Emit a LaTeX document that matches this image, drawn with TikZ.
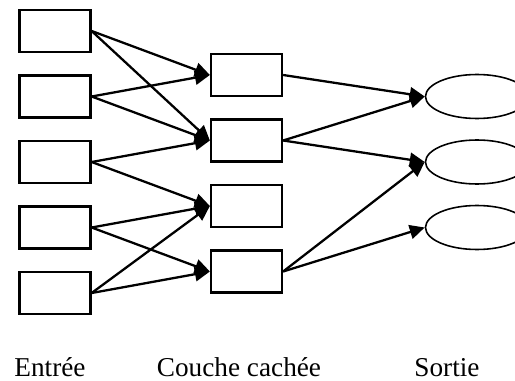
\documentclass[tikz,border=0pt]{standalone}
\usepackage{fontspec}
\setmainfont{Liberation Serif}
\usepackage{tikz}
\usetikzlibrary{arrows.meta,shapes.geometric}

\begin{document}
\begin{tikzpicture}[node distance=1.31cm, >={Triangle[length=8.5pt,width=8pt]},
    block/.style={rectangle, draw, line width=1.3pt, minimum height=0.84cm,
                  minimum width=1.42cm, inner sep=0pt},
    sortie/.style={ellipse, draw, line width=0.9pt, minimum height=0.88cm,
                   minimum width=2.06cm, inner sep=0pt},
    arrow/.style={->, line width=1.3pt},
    legende/.style={anchor=base, font=\fontsize{15.5}{18}\selectfont}]
    \useasboundingbox (0,0) rectangle (10.3,-7.62);
    \node[block] (e1) at (1.10,-0.62) {};
    \node[block, below of=e1] (e2) {};
    \node[block, below of=e2] (e3) {};
    \node[block, below of=e3] (e4) {};
    \node[block, below of=e4] (e5) {};
    \node[block] (c1) at (4.93,-1.50) {};
    \node[block, below of=c1] (c2) {};
    \node[block, below of=c2] (c3) {};
    \node[block, below of=c3] (c4) {};
    \node[sortie] (s1) at (9.54,-1.93) {};
    \node[sortie, below of=s1] (s2) {};
    \node[sortie, below of=s2] (s3) {};
    \node[legende] (le) at (1.00,-7.52) {Entrée};
    \node[legende] (lc) at (4.78,-7.52) {Couche cachée};
    \node[legende] (ls) at (8.94,-7.52) {Sortie};
    \draw[arrow] (e1.east) -- (c1.west);
    \draw[arrow] (e1.east) -- (c2.west);
    \draw[arrow] (e2.east) -- (c1.west);
    \draw[arrow] (e2.east) -- (c2.west);
    \draw[arrow] (e3.east) -- (c2.west);
    \draw[arrow] (e3.east) -- (c3.west);
    \draw[arrow] (e4.east) -- (c3.west);
    \draw[arrow] (e4.east) -- (c4.west);
    \draw[arrow] (e5.east) -- (c3.west);
    \draw[arrow] (e5.east) -- (c4.west);
    \draw[arrow] (c1.east) -- (s1.west);
    \draw[arrow] (c2.east) -- (s1.west);
    \draw[arrow] (c2.east) -- (s2.west);
    \draw[arrow] (c4.east) -- (s2.west);
    \draw[arrow] (c4.east) -- (s3.west);
\end{tikzpicture}
\end{document}
